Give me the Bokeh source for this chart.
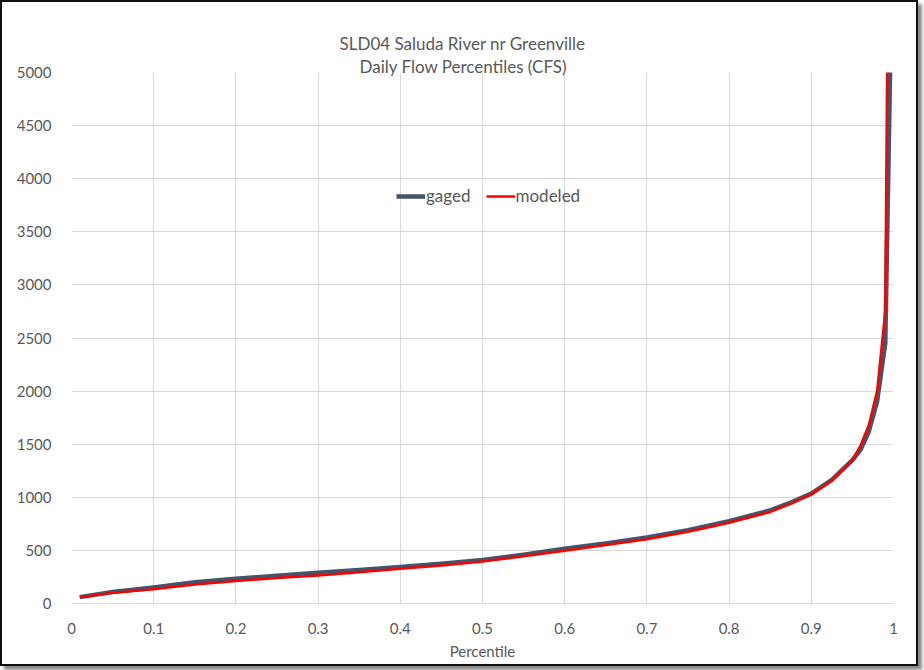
from bokeh.plotting import figure
from bokeh.models import Title, Legend, LegendItem, FixedTicker, ColumnDataSource, Range1d
from bokeh.embed import file_html
from bokeh.resources import INLINE

# ---- data ----
gaged_x = [0.01, 0.05, 0.10, 0.15, 0.20, 0.25, 0.30, 0.35, 0.40, 0.45, 0.50, 0.55, 0.60,
           0.65, 0.70, 0.75, 0.80, 0.85, 0.875, 0.90, 0.925, 0.95, 0.96, 0.97, 0.98, 0.99, 0.9965]
gaged_y = [60, 108, 150, 200, 233, 262, 289, 315, 343, 374, 410, 460, 515,
           565, 622, 690, 776, 877, 950, 1035, 1165, 1349, 1450, 1620, 1900, 2450, 5300]

modeled_x = [0.01, 0.05, 0.10, 0.15, 0.20, 0.25, 0.30, 0.35, 0.40, 0.45, 0.50, 0.55, 0.60,
             0.65, 0.70, 0.75, 0.80, 0.85, 0.875, 0.90, 0.925, 0.95, 0.96, 0.97, 0.98, 0.99, 0.9925]
modeled_y = [60, 100, 135, 180, 211, 240, 264, 295, 327, 358, 395, 445, 497,
             550, 605, 675, 760, 862, 940, 1030, 1160, 1350, 1490, 1680, 2000, 2750, 5300]

x_ticks = [0, 0.1, 0.2, 0.3, 0.4, 0.5, 0.6, 0.7, 0.8, 0.9, 1]
x_tick_labels = ["0", "0.1", "0.2", "0.3", "0.4", "0.5", "0.6", "0.7", "0.8", "0.9", "1"]
y_ticks = [0, 500, 1000, 1500, 2000, 2500, 3000, 3500, 4000, 4500, 5000]
y_tick_labels = [str(v) for v in y_ticks]

title_line1 = "SLD04 Saluda River nr Greenville"
title_line2 = "Daily Flow Percentiles (CFS)"
x_label = "Percentile"

FONT = "Lato"
TXT = "#595959"
GRID = "#d9d9d9"

p = figure(width=918, height=666, x_range=Range1d(0, 1), y_range=Range1d(0, 5000),
           output_backend="svg", toolbar_location=None,
           min_border_left=69, min_border_right=27, min_border_top=70, min_border_bottom=65)

p.styles = {"border": "2px solid #111111", "box-shadow": "4px 4px 3px #8a8a8a",
            "box-sizing": "border-box"}

p.title.text = title_line1
p.title.align = "left"
p.title.offset = 268
p.title.text_font = FONT
p.title.text_font_size = "17px"
p.title.text_font_style = "normal"
p.title.text_color = TXT
p.title.standoff = 9
t2 = Title(text=title_line2, align="left", offset=288, text_font=FONT, text_font_size="17px",
           text_font_style="normal", text_color=TXT, standoff=-9)
p.add_layout(t2, "above")

src_g = ColumnDataSource(dict(x=gaged_x, y=gaged_y))
src_m = ColumnDataSource(dict(x=modeled_x, y=modeled_y))
r1 = p.line("x", "y", source=src_g, line_color="#44546A", line_width=4.5, line_join="round")
r2 = p.line("x", "y", source=src_m, line_color="#FF0000", line_width=2.5, line_join="round")

p.xaxis.ticker = FixedTicker(ticks=x_ticks)
p.xaxis.major_label_overrides = {t: l for t, l in zip(x_ticks, x_tick_labels)}
p.yaxis.ticker = FixedTicker(ticks=y_ticks)
p.yaxis.major_label_overrides = {t: l for t, l in zip(y_ticks, y_tick_labels)}

for ax in (p.xaxis[0], p.yaxis[0]):
    ax.major_tick_line_color = None
    ax.minor_tick_line_color = None
    ax.major_label_text_font = FONT
    ax.major_label_text_font_size = "15px"
    ax.major_label_text_color = TXT
p.xaxis.axis_line_color = GRID
p.yaxis.axis_line_color = None
p.yaxis.major_label_standoff = 14
p.xaxis.major_label_standoff = 13
p.xaxis.axis_label = x_label
p.xaxis.axis_label_text_font = FONT
p.xaxis.axis_label_text_font_size = "15px"
p.xaxis.axis_label_text_font_style = "normal"
p.xaxis.axis_label_text_color = TXT
p.xaxis.axis_label_standoff = 5

p.xgrid.ticker = FixedTicker(ticks=x_ticks)
p.ygrid.ticker = FixedTicker(ticks=y_ticks)
p.grid.grid_line_color = GRID
p.grid.grid_line_width = 1
p.outline_line_color = None

legend = Legend(items=[LegendItem(label="gaged", renderers=[r1]),
                       LegendItem(label="modeled", renderers=[r2])],
                orientation="horizontal", location=(325, 397),
                border_line_color=None, background_fill_alpha=0,
                padding=0, margin=0, spacing=15, label_standoff=1,
                glyph_width=29, glyph_height=20, label_height=20,
                label_text_font=FONT, label_text_font_size="17px", label_text_color=TXT)
p.add_layout(legend)

open("out.html", "w").write(file_html(p, INLINE))
